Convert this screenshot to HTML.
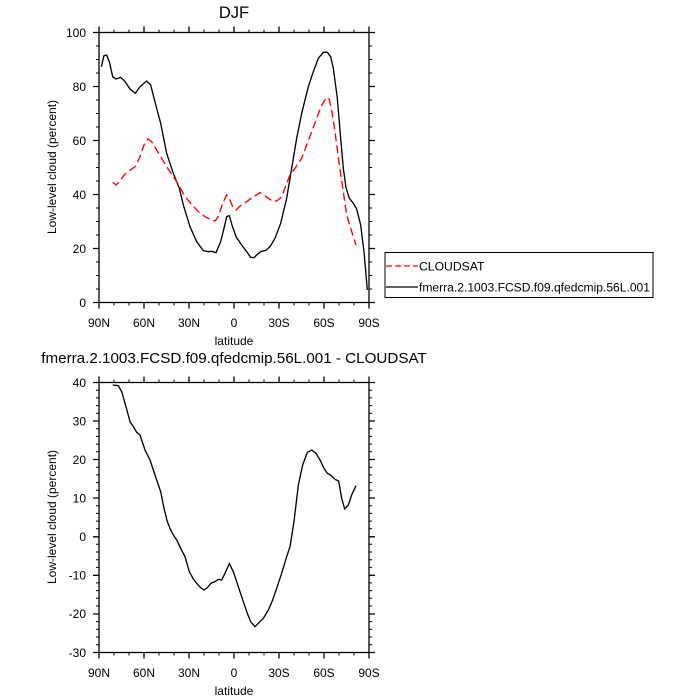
<!DOCTYPE html>
<html><head><meta charset="utf-8"><style>
body{margin:0;background:#fff;width:700px;height:700px;overflow:hidden}
svg{display:block}
text{font-family:"Liberation Sans",sans-serif;fill:#000}
</style></head><body>
<svg width="700" height="700" viewBox="0 0 700 700" xmlns="http://www.w3.org/2000/svg">
<defs>
<g id="xt" stroke="#000" stroke-width="1">
<path d="M99,0v6M144,0v6M189,0v6M234,0v6M279,0v6M324,0v6M369,0v6" stroke-width="1.3"/>
<path d="M114,0v3M129,0v3M159,0v3M174,0v3M204,0v3M219,0v3M249,0v3M264,0v3M294,0v3M309,0v3M339,0v3M354,0v3"/>
</g>
</defs>
<!-- TOP -->
<text x="234" y="18" font-size="16.5" text-anchor="middle">DJF</text>
<rect x="99" y="32.5" width="270" height="270" fill="none" stroke="#000" stroke-width="1.3"/>
<use href="#xt" transform="translate(0,302.5)"/>
<use href="#xt" transform="translate(0,32.5) scale(1,-1)"/>
<g stroke="#000" stroke-width="1.3">
<path d="M93,32.5h6M93,86.5h6M93,140.5h6M93,194.5h6M93,248.5h6M93,302.5h6"/>
<path d="M369,32.5h6M369,86.5h6M369,140.5h6M369,194.5h6M369,248.5h6M369,302.5h6"/>
<path stroke-width="1" d="M96,46h3M96,59.5h3M96,73h3M96,100h3M96,113.5h3M96,127h3M96,154h3M96,167.5h3M96,181h3M96,208h3M96,221.5h3M96,235h3M96,262h3M96,275.5h3M96,289h3M369,46h3M369,59.5h3M369,73h3M369,100h3M369,113.5h3M369,127h3M369,154h3M369,167.5h3M369,181h3M369,208h3M369,221.5h3M369,235h3M369,262h3M369,275.5h3M369,289h3"/>
</g>
<g font-size="12" text-anchor="end">
<text x="86" y="37">100</text><text x="86" y="91">80</text><text x="86" y="145">60</text><text x="86" y="199">40</text><text x="86" y="253">20</text><text x="86" y="307">0</text>
</g>
<g font-size="12" text-anchor="middle">
<text x="99" y="327">90N</text><text x="144" y="327">60N</text><text x="189" y="327">30N</text><text x="234" y="327">0</text><text x="279" y="327">30S</text><text x="324" y="327">60S</text><text x="369" y="327">90S</text>
<text x="234" y="345">latitude</text>
</g>
<text font-size="12" text-anchor="middle" transform="translate(56,167) rotate(-90)">Low-level cloud (percent)</text>
<g transform="translate(90,25) scale(0.33333)" fill="none">
<polyline stroke="#000" stroke-width="4" points="34,125 42,92 50,90 58,110 68,155 78,162 92,157 104,168 120,192 136,205 150,185 170,168 182,180 196,235 212,295 230,385 250,445 268,490 280,540 300,605 320,650 340,677 355,680 365,679 378,683 392,650 402,610 410,575 418,572 426,600 438,635 455,660 470,680 482,697 492,698 500,690 512,680 528,676 540,665 555,640 572,595 590,520 605,430 620,340 635,265 655,185 670,140 685,100 700,82 712,82 722,95 730,130 742,220 752,340 760,430 768,488 778,520 790,535 800,552 812,600 822,680 832,795"/>
<polyline stroke="#f00" stroke-width="4" stroke-dasharray="24,12" points="68,472 78,480 92,465 104,448 118,437 135,425 150,395 162,360 174,342 185,350 200,375 215,400 230,425 250,455 265,478 285,515 305,538 325,560 345,575 365,585 375,588 385,575 398,535 410,510 418,520 428,545 438,555 450,543 470,530 490,515 510,503 520,508 535,520 550,530 562,527 575,515 590,475 600,450 615,430 635,400 650,360 665,320 680,280 695,240 708,220 716,218 724,250 735,320 748,420 760,500 770,570 782,610 798,660"/>
</g>
<!-- legend -->
<rect x="385" y="252.5" width="268" height="45" fill="#fff" stroke="#000" stroke-width="1"/>
<line x1="386" y1="266" x2="418" y2="266" stroke="#f00" stroke-width="1.3" stroke-dasharray="6,3"/>
<line x1="386" y1="287" x2="418" y2="287" stroke="#000" stroke-width="1.3"/>
<text x="419" y="270.5" font-size="12.2">CLOUDSAT</text>
<text x="419" y="291.5" font-size="12.2" textLength="231" lengthAdjust="spacingAndGlyphs">fmerra.2.1003.FCSD.f09.qfedcmip.56L.001</text>
<!-- BOTTOM -->
<text x="234" y="363" font-size="15.2" text-anchor="middle">fmerra.2.1003.FCSD.f09.qfedcmip.56L.001 - CLOUDSAT</text>
<rect x="99" y="382.5" width="270" height="270" fill="none" stroke="#000" stroke-width="1.3"/>
<use href="#xt" transform="translate(0,652.5)"/>
<use href="#xt" transform="translate(0,382.5) scale(1,-1)"/>
<g stroke="#000" stroke-width="1.3">
<path d="M93,382.5h6M93,421h6M93,459.5h6M93,498h6M93,536.8h6M93,575.3h6M93,614h6M93,652.5h6"/>
<path d="M369,382.5h6M369,421h6M369,459.5h6M369,498h6M369,536.8h6M369,575.3h6M369,614h6M369,652.5h6"/>
<path stroke-width="1" d="M96,390.2h3M96,397.9h3M96,405.6h3M96,413.3h3M96,428.7h3M96,436.4h3M96,444.1h3M96,451.8h3M96,467.2h3M96,474.9h3M96,482.6h3M96,490.3h3M96,505.7h3M96,513.4h3M96,521.1h3M96,528.8h3M96,544.3h3M96,552h3M96,559.7h3M96,567.4h3M96,582.9h3M96,590.6h3M96,598.3h3M96,606h3M96,621.6h3M96,629.3h3M96,637h3M96,644.7h3M369,390.2h3M369,397.9h3M369,405.6h3M369,413.3h3M369,428.7h3M369,436.4h3M369,444.1h3M369,451.8h3M369,467.2h3M369,474.9h3M369,482.6h3M369,490.3h3M369,505.7h3M369,513.4h3M369,521.1h3M369,528.8h3M369,544.3h3M369,552h3M369,559.7h3M369,567.4h3M369,582.9h3M369,590.6h3M369,598.3h3M369,606h3M369,621.6h3M369,629.3h3M369,637h3M369,644.7h3"/>
</g>
<g font-size="12" text-anchor="end">
<text x="86" y="387">40</text><text x="86" y="425.5">30</text><text x="86" y="464">20</text><text x="86" y="502.5">10</text><text x="86" y="541">0</text><text x="86" y="579.5">-10</text><text x="86" y="618">-20</text><text x="86" y="657">-30</text>
</g>
<g font-size="12" text-anchor="middle">
<text x="99" y="677">90N</text><text x="144" y="677">60N</text><text x="189" y="677">30N</text><text x="234" y="677">0</text><text x="279" y="677">30S</text><text x="324" y="677">60S</text><text x="369" y="677">90S</text>
<text x="234" y="695">latitude</text>
</g>
<text font-size="12" text-anchor="middle" transform="translate(56,517) rotate(-90)">Low-level cloud (percent)</text>
<g transform="translate(90,375) scale(0.33333)" fill="none">
<polyline stroke="#000" stroke-width="4" points="68,30 85,32 95,50 108,95 120,140 130,155 140,172 150,180 165,225 180,255 190,285 200,315 212,350 222,400 232,440 240,460 250,480 260,495 272,520 285,545 298,590 310,612 320,625 332,638 342,645 352,638 364,624 375,620 385,613 395,615 405,595 418,566 430,590 445,635 460,680 472,715 482,740 495,755 505,745 520,730 535,705 548,675 560,640 575,595 590,545 600,515 612,440 625,330 638,270 652,232 665,225 678,235 690,255 702,280 712,295 722,300 735,313 746,318 755,370 764,402 775,390 785,360 798,332"/>
</g>
</svg>
</body></html>
